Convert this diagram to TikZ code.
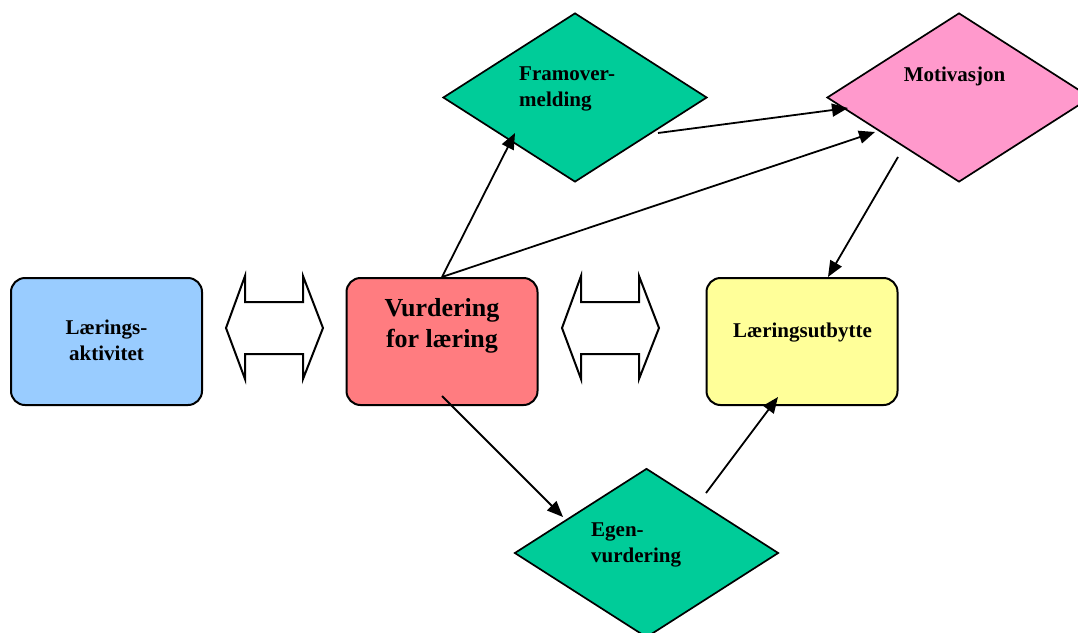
\documentclass[tikz,border=0pt]{standalone}
\usepackage{fontspec}
\setmainfont{Liberation Serif}
\usetikzlibrary{shapes.geometric,arrows.meta}
\definecolor{actblue}{HTML}{99CCFF}
\definecolor{vflred}{HTML}{FF7C80}
\definecolor{luyellow}{HTML}{FFFF99}
\definecolor{diagreen}{HTML}{00CC99}
\definecolor{motpink}{HTML}{FF99CC}
\begin{document}
\begin{tikzpicture}[x=1pt,y=-1pt,
  box/.style={draw=black, line width=2pt, rounded corners=14pt,
    minimum width=191pt, minimum height=127pt, inner sep=0pt},
  dia/.style={diamond, draw=black, line width=1.7pt,
    minimum width=264pt, minimum height=169pt, inner sep=0pt},
  lbl/.style={font=\bfseries\fontsize{21}{26}\selectfont, inner sep=0pt},
  biglbl/.style={font=\bfseries\fontsize{26}{30.5}\selectfont, inner sep=0pt},
  conn/.style={line width=1.8pt, -{Triangle[length=16pt,width=13pt]}},
  blockarrow/.style={draw=black, fill=white, line width=2pt, line join=miter}]
\clip (0,0) rectangle (1078,632);
\fill[white] (0,0) rectangle (1078,632);

% rounded boxes
\node[box, fill=actblue]  (act) at (106.5,341.5) {};
\node[box, fill=vflred]   (vfl) at (442,341.5) {};
\node[box, fill=luyellow] (lu)  at (802,341.5) {};

% diamonds
\node[dia, fill=diagreen] (fm)  at (575,97.5) {};
\node[dia, fill=motpink]  (mot) at (959,97.5) {};
\node[dia, fill=diagreen] (ev)  at (646.5,553) {};

% two-way block arrows
\draw[blockarrow] (226,328) -- (245,276) -- (245,302) -- (303,302) -- (303,276)
  -- (323,328) -- (303,379) -- (303,354) -- (245,354) -- (245,379) -- cycle;
\begin{scope}[shift={(336,0)}]
\draw[blockarrow] (226,328) -- (245,276) -- (245,302) -- (303,302) -- (303,276)
  -- (323,328) -- (303,379) -- (303,354) -- (245,354) -- (245,379) -- cycle;
\end{scope}

% labels (base anchor of a two-line label sits on its last line)
\node[lbl, align=center, anchor=base] (actT) at (106.5,360) {Lærings-\\aktivitet};
\node[biglbl, align=center, anchor=base] (vflT) at (442,347) {Vurdering\\for læring};
\node[lbl, anchor=base] (luT) at (802.5,337) {Læringsutbytte};
\node[lbl, align=left, anchor=base west] (fmT) at (519,106) {Framover-\\melding};
\node[lbl, anchor=base] (motT) at (954.5,81) {Motivasjon};
\node[lbl, align=left, anchor=base west] (evT) at (591,562) {Egen-\\vurdering};

% connectors
\draw[conn] (vfl.north) -- ([shift={(-60,35.5)}]fm.center);
\draw[conn] (vfl.north) -- ([shift={(-84,34.5)}]mot.center);
\draw[conn] ([shift={(83,35.5)}]fm.center) -- ([shift={(-111,10.5)}]mot.center);
\draw[conn] ([shift={(-61,59.5)}]mot.center) -- ([shift={(26,0)}]lu.north);
\draw[conn] ([shift={(0,-10)}]vfl.south) -- ([shift={(-83.5,-36)}]ev.center);
\draw[conn] ([shift={(59.5,-60)}]ev.center) -- ([shift={(-24,-9)}]lu.south);
\end{tikzpicture}
\end{document}
